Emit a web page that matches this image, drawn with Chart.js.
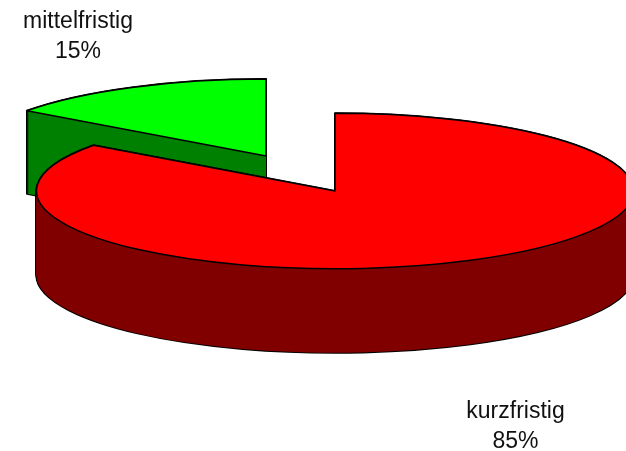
<!DOCTYPE html>
<html><head><meta charset="utf-8">
<style>html,body{margin:0;padding:0;background:#fff}#w{width:626px;height:451px}canvas{display:block}</style>
<script src="https://cdn.jsdelivr.net/npm/chart.js@4/dist/chart.umd.min.js"></script>
</head><body><div id="w"><canvas id="c" width="626" height="451"></canvas></div>
<script>
const categories = ['kurzfristig', 'mittelfristig'];
const shares = [85, 15];
const topColors = ['#ff0000', '#00ff00'];
const wallColors = ['#800000', '#008000'];
const explodeX = [0, -69];
const explodeY = [0, -35];
const sliceScale = [1, 0.99];
const sliceDepth = [84, 83];
const labelX = [515.5, 78];
const labelY = [418, 28];
const LINE_GAP = 29.5, RADIUS = 298.5, TILT = 0.2605, CX = 335, CY = 191;

const tiltedPie = {
  id: 'tiltedPie',
  beforeDatasetDraw(chart, args) {
    const ctx = chart.ctx, arcs = args.meta.data;
    const nativeStroke = ctx.stroke;
    // keep outlines an even width under the squash transform
    ctx.stroke = function () {
      const t = ctx.getTransform();
      ctx.resetTransform();
      nativeStroke.call(ctx);
      ctx.setTransform(t);
    };
    const paint = (el, i, depth, fill, bw) => {
      const saved = el.options;
      el.options = Object.assign({}, saved, {backgroundColor: fill, borderColor: '#000', borderWidth: bw, borderJoinStyle: 'round', borderRadius: 0, offset: 0, spacing: 0});
      ctx.save();
      ctx.translate(CX + explodeX[i], CY + explodeY[i] + depth);
      ctx.scale(sliceScale[i], TILT * sliceScale[i]);
      ctx.translate(-el.x, -el.y);
      el.draw(ctx);
      ctx.restore();
      el.options = saved;
    };
    [1, 0].forEach(i => {
      const el = arcs[i];
      for (let d = sliceDepth[i]; d >= 0; d--) paint(el, i, d, '#000', 2);
      for (let d = sliceDepth[i]; d >= 0; d--) paint(el, i, d, wallColors[i], 0);
      paint(el, i, 0, topColors[i], 1.5);
    });
    delete ctx.stroke;
    return false;
  },
  afterDraw(chart) {
    const ctx = chart.ctx;
    ctx.save();
    ctx.font = '23px "Liberation Sans", Arial, sans-serif';
    ctx.fillStyle = '#111';
    ctx.textAlign = 'center';
    ctx.textBaseline = 'alphabetic';
    categories.forEach((name, i) => {
      ctx.fillText(name, labelX[i], labelY[i]);
      ctx.fillText(shares[i] + '%', labelX[i], labelY[i] + LINE_GAP);
    });
    ctx.restore();
  }
};

new Chart(document.getElementById('c'), {
  type: 'pie',
  data: {labels: categories, datasets: [{data: shares, backgroundColor: topColors, borderWidth: 0, clip: false}]},
  options: {
    responsive: false, animation: false, radius: RADIUS,
    layout: {padding: 0},
    plugins: {legend: {display: false}, tooltip: {enabled: false}}
  },
  plugins: [tiltedPie]
});
</script></body></html>
